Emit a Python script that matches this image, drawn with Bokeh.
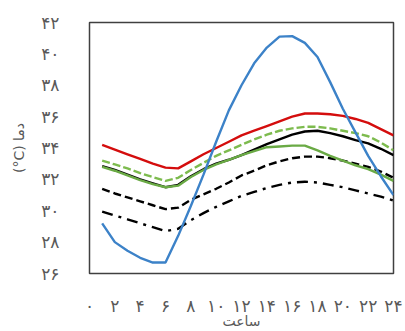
from bokeh.plotting import figure
from bokeh.models import ColumnDataSource, FixedTicker, Range1d
from bokeh.embed import file_html
from bokeh.resources import INLINE

# Hourly temperatures (°C) for hours 1..24
hours = list(range(1, 25))
air_temp = [29.2, 28.0, 27.45, 27.0, 26.7, 26.7, 28.4, 30.3, 32.3, 34.4, 36.4, 38.0,
            39.4, 40.4, 41.1, 41.13, 40.7, 39.8, 38.2, 36.5, 35.0, 33.5, 32.2, 31.0]
red_series = [34.2, 33.9, 33.6, 33.3, 33.0, 32.75, 32.7, 33.15, 33.6, 34.0, 34.4, 34.8,
              35.1, 35.4, 35.7, 36.0, 36.2, 36.2, 36.15, 36.05, 35.85, 35.6, 35.2, 34.8]
green_dashed = [33.2, 32.95, 32.7, 32.4, 32.15, 31.9, 32.1, 32.6, 33.05, 33.5, 33.85, 34.2,
                34.55, 34.85, 35.1, 35.25, 35.35, 35.35, 35.25, 35.1, 34.95, 34.75, 34.35, 33.85]
black_solid = [32.85, 32.6, 32.3, 32.0, 31.75, 31.5, 31.65, 32.2, 32.65, 33.0, 33.25, 33.55,
               33.9, 34.25, 34.55, 34.85, 35.05, 35.1, 34.95, 34.75, 34.5, 34.3, 33.95, 33.55]
green_solid = [32.8, 32.55, 32.25, 31.95, 31.7, 31.5, 31.6, 32.15, 32.6, 32.95, 33.25, 33.55,
               33.8, 34.05, 34.1, 34.15, 34.15, 33.85, 33.5, 33.2, 32.9, 32.65, 32.3, 31.9]
black_dashed = [31.4, 31.1, 30.85, 30.6, 30.35, 30.1, 30.2, 30.7, 31.05, 31.4, 31.8, 32.25,
                32.55, 32.9, 33.15, 33.35, 33.45, 33.45, 33.35, 33.2, 33.0, 32.8, 32.5, 32.1]
black_dashdot = [29.95, 29.7, 29.45, 29.2, 28.95, 28.7, 28.85, 29.4, 29.85, 30.25, 30.6, 30.95,
                 31.2, 31.45, 31.65, 31.8, 31.85, 31.8, 31.65, 31.5, 31.3, 31.1, 30.9, 30.65]

x_ticks = list(range(0, 25, 2))
y_ticks = list(range(26, 43, 2))
persian_digits = "۰۱۲۳۴۵۶۷۸۹"


def to_persian(n):
    return "".join(persian_digits[int(d)] for d in str(n))


x_tick_labels = [to_persian(t) for t in x_ticks]
y_tick_labels = [to_persian(t) for t in y_ticks]

source = ColumnDataSource(dict(
    hour=hours, air=air_temp, red=red_series, gdash=green_dashed,
    bsolid=black_solid, gsolid=green_solid, bdash=black_dashed, bdashdot=black_dashdot,
))

p = figure(width=405, height=331, output_backend="svg", toolbar_location=None,
           x_range=Range1d(0, 24), y_range=Range1d(26, 42),
           min_border_left=89, min_border_right=12, min_border_top=22, min_border_bottom=51)

p.background_fill_color = "white"
p.border_fill_color = "white"
p.outline_line_color = "#404040"
p.outline_line_width = 1.5
p.grid.visible = False

lw = 2.4
p.line("hour", "bdashdot", source=source, color="black", line_width=lw, line_dash="11 6 3 6")
p.line("hour", "bdash", source=source, color="black", line_width=lw, line_dash="8 4")
p.line("hour", "bsolid", source=source, color="black", line_width=lw)
p.line("hour", "gsolid", source=source, color="#6aaa45", line_width=lw)
p.line("hour", "gdash", source=source, color="#7dbb4e", line_width=lw, line_dash="8 3")
p.line("hour", "red", source=source, color="#d40d0d", line_width=lw)
p.line("hour", "air", source=source, color="#3c82c8", line_width=lw)

font = "DejaVu Sans"
for ax in (p.xaxis[0], p.yaxis[0]):
    ax.axis_line_color = None
    ax.major_tick_line_color = None
    ax.minor_tick_line_color = None
    ax.major_label_text_font = font
    ax.major_label_text_font_size = "17px"
    ax.major_label_text_color = "#595959"
    ax.axis_label_text_font = font
    ax.axis_label_text_color = "#595959"
    ax.axis_label_text_font_style = "normal"

p.xaxis.ticker = FixedTicker(ticks=x_ticks)
p.xaxis.major_label_overrides = dict(zip(x_ticks, x_tick_labels))
p.xaxis.major_label_standoff = 16
p.xaxis.axis_label = "ساعت"
p.xaxis.axis_label_text_font_size = "14px"
p.xaxis.axis_label_standoff = -6

p.yaxis.ticker = FixedTicker(ticks=y_ticks)
p.yaxis.major_label_overrides = dict(zip(y_ticks, y_tick_labels))
p.yaxis.major_label_standoff = 24
p.yaxis.axis_label = "(°C) دما"
p.yaxis.axis_label_text_font_size = "14px"
p.yaxis.axis_label_standoff = 11

open("out.html", "w").write(file_html(p, INLINE))
